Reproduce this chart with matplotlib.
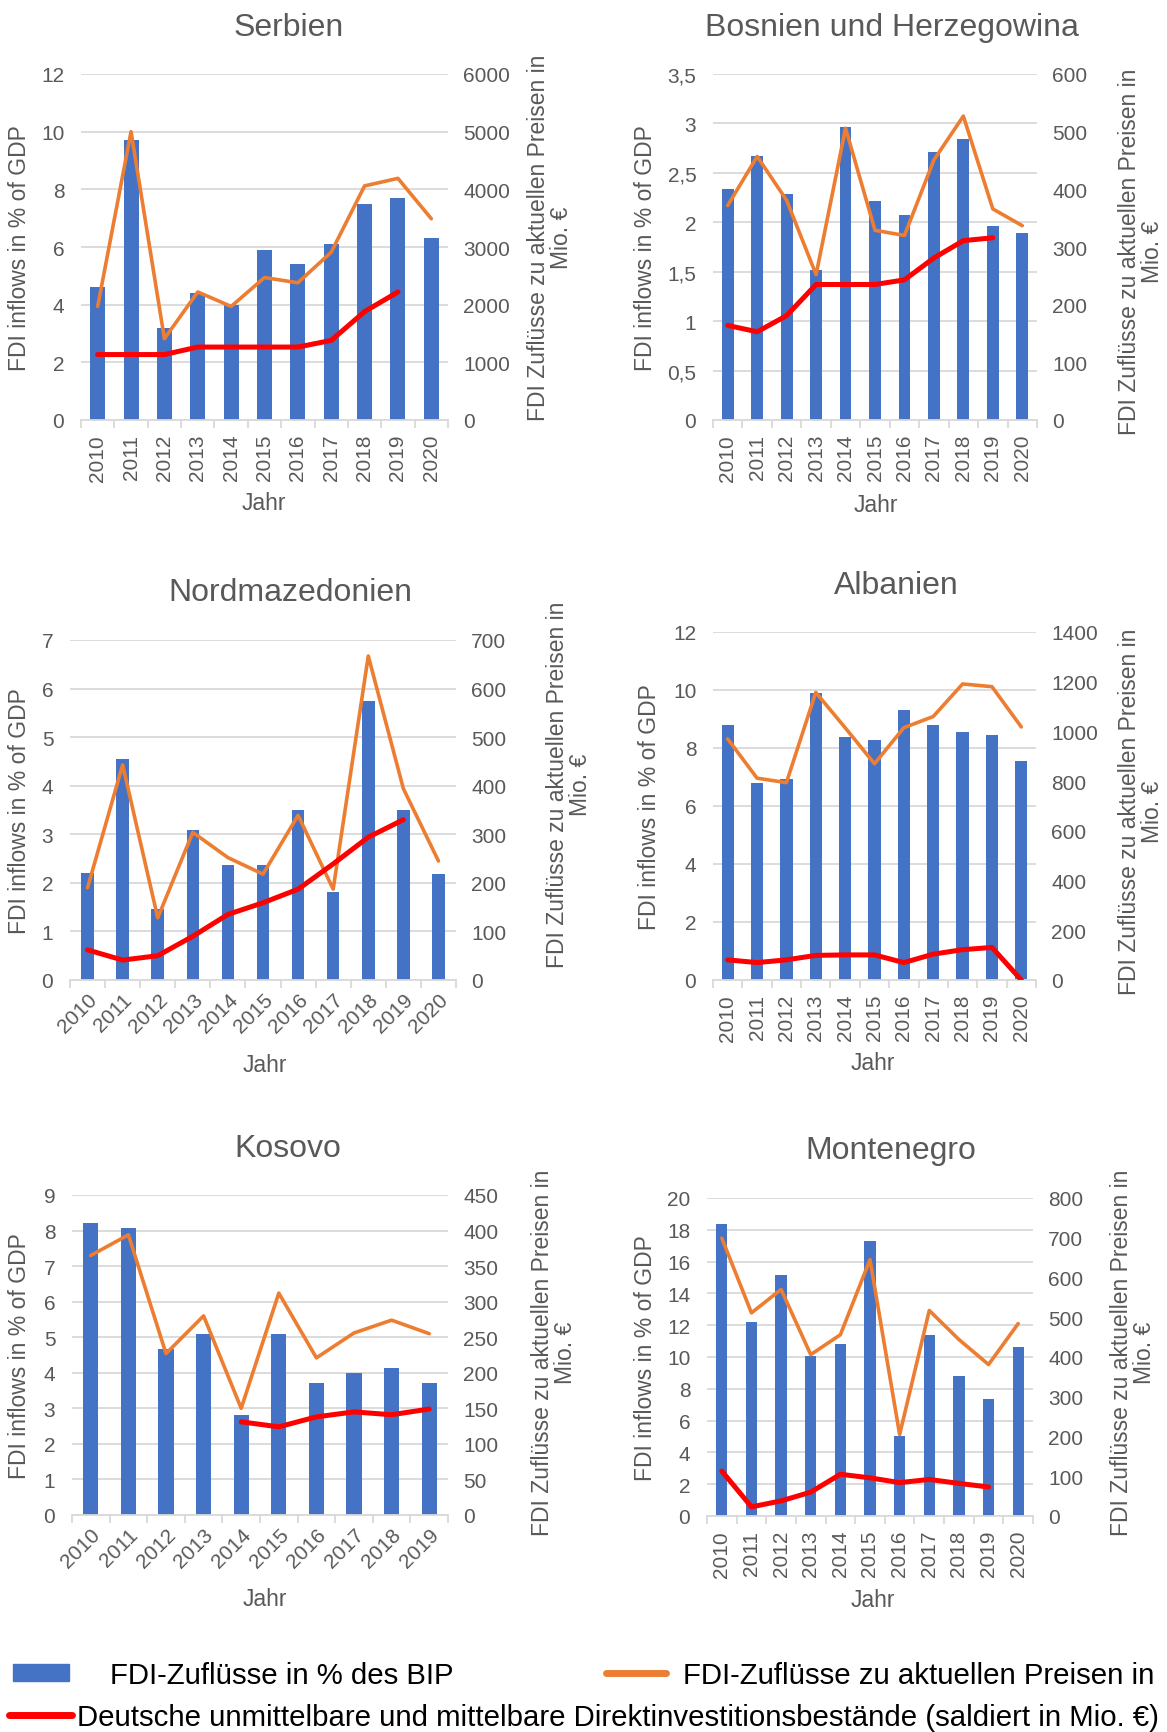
import numpy as np
import matplotlib.pyplot as plt
from matplotlib.patches import Patch
from matplotlib.lines import Line2D
from matplotlib.ticker import FuncFormatter, MultipleLocator

plt.rcParams['font.family'] = ['Liberation Sans', 'DejaVu Sans']

years = ['2010', '2011', '2012', '2013', '2014', '2015', '2016', '2017', '2018', '2019', '2020']
years_kos = ['2010', '2011', '2012', '2013', '2014', '2015', '2016', '2017', '2018', '2019']

# FDI inflows in % of GDP / FDI inflows (Mio. EUR) / German FDI stock (Mio. EUR)
serbien_gdp = [4.6, 9.7, 3.2, 4.4, 4.0, 5.9, 5.4, 6.1, 7.5, 7.7, 6.3]
serbien_flow = [1970, 5000, 1410, 2220, 1970, 2470, 2380, 2910, 4060, 4190, 3490]
serbien_stock = [1135, 1135, 1135, 1265, 1265, 1265, 1265, 1380, 1880, 2220, np.nan]

bosnien_gdp = [2.34, 2.67, 2.29, 1.52, 2.96, 2.22, 2.07, 2.71, 2.84, 1.96, 1.89]
bosnien_flow = [372, 457, 381, 252, 506, 329, 320, 451, 527, 366, 337]
bosnien_stock = [164, 153, 181, 235, 235, 235, 243, 281, 311, 316, np.nan]

mazedonien_gdp = [2.21, 4.54, 1.47, 3.08, 2.37, 2.37, 3.49, 1.81, 5.75, 3.49, 2.18]
mazedonien_flow = [190, 443, 128, 304, 252, 218, 339, 187, 667, 394, 245]
mazedonien_stock = [62, 41, 50, 90, 135, 159, 187, 239, 294, 330, np.nan]

albanien_gdp = [8.79, 6.78, 6.92, 9.91, 8.38, 8.29, 9.31, 8.79, 8.55, 8.46, 7.54]
albanien_flow = [970, 812, 794, 1157, 1015, 870, 1015, 1060, 1191, 1180, 1018]
albanien_stock = [81, 70, 81, 99, 101, 101, 70, 104, 122, 131, 0]

kosovo_gdp = [8.2, 8.07, 4.68, 5.1, 2.81, 5.1, 3.71, 3.99, 4.13, 3.71]
kosovo_flow = [365, 394, 227, 280, 150, 312, 221, 256, 274, 255]
kosovo_stock = [np.nan, np.nan, np.nan, np.nan, 131, 124, 138, 145, 141, 149]

montenegro_gdp = [18.37, 12.19, 15.14, 10.05, 10.79, 17.28, 5.03, 11.41, 8.8, 7.37, 10.64]
montenegro_flow = [699, 511, 570, 406, 456, 645, 205, 517, 444, 381, 484]
montenegro_stock = [113, 23, 38, 60, 105, 96, 84, 92, 82, 73, np.nan]

BLUE = '#4472C4'
ORANGE = '#ED7D31'
RED = '#FF0000'
GRID = '#D9D9D9'
TXT = '#595959'

W, H = 1167, 1733
fig = plt.figure(figsize=(W / 100, H / 100), dpi=100)


def fx(x):
    return x / W


def fy(y):
    return 1 - y / H


def panel(box, title, cats, gdp, flow, stock, lmax, lstep, rmax, rstep,
          rot, bw, title_pos, llab_x, rlab_pos, jahr_pos, comma=False):
    l, r, t, b = box
    ax = fig.add_axes([fx(l), fy(b), (r - l) / W, (b - t) / H])
    x = np.arange(len(cats))
    ax.bar(x, gdp, width=bw, color=BLUE, zorder=2)
    ax.set_xlim(-0.5, len(cats) - 0.5)
    ax.set_ylim(0, lmax)
    ax.yaxis.set_major_locator(MultipleLocator(lstep))
    if comma:
        ax.yaxis.set_major_formatter(FuncFormatter(lambda v, p: ('%g' % v).replace('.', ',')))
    ax.grid(axis='y', color=GRID, lw=1.3)
    ax.set_axisbelow(True)
    for s in ['top', 'left', 'right']:
        ax.spines[s].set_visible(False)
    ax.spines['bottom'].set_color(GRID)
    ax.spines['bottom'].set_linewidth(1.3)
    ax.set_xticks(x)
    if rot == 90:
        ax.set_xticklabels(cats, rotation=90)
        ax.tick_params(axis='x', which='major', pad=10)
    else:
        ax.set_xticklabels(cats, rotation=45, ha='right', rotation_mode='anchor')
        ax.tick_params(axis='x', which='major', pad=7)
    ax.set_xticks(np.arange(len(cats) + 1) - 0.5, minor=True)
    ax.tick_params(axis='x', which='minor', length=6, color=GRID, width=1.3)
    ax.tick_params(axis='x', which='major', length=0, labelsize=15, labelcolor=TXT)
    ax.tick_params(axis='y', length=0, labelsize=15, labelcolor=TXT, pad=12)

    ax2 = ax.twinx()
    ax2.plot(x, flow, color=ORANGE, lw=2.6, solid_capstyle='round')
    ax2.plot(x, stock, color=RED, lw=3.6, solid_capstyle='round')
    ax2.set_ylim(0, rmax)
    ax2.yaxis.set_major_locator(MultipleLocator(rstep))
    for s in ax2.spines.values():
        s.set_visible(False)
    ax2.tick_params(axis='y', length=0, labelsize=15, labelcolor=TXT, pad=11)

    fig.text(fx(title_pos[0]), fy(title_pos[1]), title, ha='center', va='center',
             fontsize=23, color=TXT)
    fig.text(fx(llab_x), fy((t + b) / 2), 'FDI inflows in % of GDP', rotation=90,
             ha='center', va='center', fontsize=16.5, color=TXT)
    fig.text(fx(rlab_pos[0]), fy(rlab_pos[1]), 'FDI Zuflüsse zu aktuellen Preisen in\nMio. €',
             rotation=90, ha='center', va='center', multialignment='center',
             fontsize=16.5, color=TXT, linespacing=1.05)
    fig.text(fx(jahr_pos[0]), fy(jahr_pos[1]), 'Jahr', ha='center', va='center',
             fontsize=16.5, color=TXT)
    return ax


panel((81, 448, 75, 421), 'Serbien', years, serbien_gdp, serbien_flow, serbien_stock,
      12, 2, 6000, 1000, 90, 0.45, (289, 28), 20, (550, 238), (264, 504))
panel((713, 1037, 75, 421), 'Bosnien und Herzegowina', years, bosnien_gdp, bosnien_flow,
      bosnien_stock, 3.5, 0.5, 600, 100, 90, 0.40, (892, 28), 646, (1141, 252), (876, 506),
      comma=True)
panel((70, 456, 641, 981), 'Nordmazedonien', years, mazedonien_gdp, mazedonien_flow,
      mazedonien_stock, 7, 1, 700, 100, 45, 0.36, (290, 593), 20, (569, 785), (265, 1066))
panel((713, 1036, 633, 981), 'Albanien', years, albanien_gdp, albanien_flow, albanien_stock,
      12, 2, 1400, 200, 90, 0.42, (896, 586), 649, (1141, 812), (873, 1064))
panel((72, 448, 1196, 1516), 'Kosovo', years_kos, kosovo_gdp, kosovo_flow, kosovo_stock,
      9, 1, 450, 50, 45, 0.40, (288, 1149), 20, (554, 1353), (265, 1600))
panel((707, 1033, 1199, 1517), 'Montenegro', years, montenegro_gdp, montenegro_flow,
      montenegro_stock, 20, 2, 800, 100, 90, 0.38, (891, 1151), 646, (1133, 1353), (873, 1601))

# legend, in three pieces like the original
lfont = {'family': ['Liberation Sans', 'DejaVu Sans'], 'size': 21.2}
leg1 = fig.legend([Patch(color=BLUE)], ['FDI-Zuflüsse in % des BIP'], loc='center left',
                  bbox_to_anchor=(fx(13), fy(1676)), frameon=False, prop=lfont,
                  borderpad=0, borderaxespad=0, handlelength=1.9, handleheight=0.55,
                  handletextpad=1.4)
leg2 = fig.legend([Line2D([], [], color=ORANGE, lw=5, solid_capstyle='round')],
                  ['FDI-Zuflüsse zu aktuellen Preisen in'], loc='center left',
                  bbox_to_anchor=(fx(606), fy(1676)), frameon=False, prop=lfont,
                  borderpad=0, borderaxespad=0, handlelength=2.05, handletextpad=0.55)
leg3 = fig.legend([Line2D([], [], color=RED, lw=5, solid_capstyle='round')],
                  ['Deutsche unmittelbare und mittelbare Direktinvestitionsbestände (saldiert in Mio. €)'],
                  loc='center left', bbox_to_anchor=(fx(9), fy(1718)), frameon=False,
                  prop=lfont, borderpad=0, borderaxespad=0, handlelength=2.15,
                  handletextpad=0.15)

plt.savefig('out.png', dpi=100)
